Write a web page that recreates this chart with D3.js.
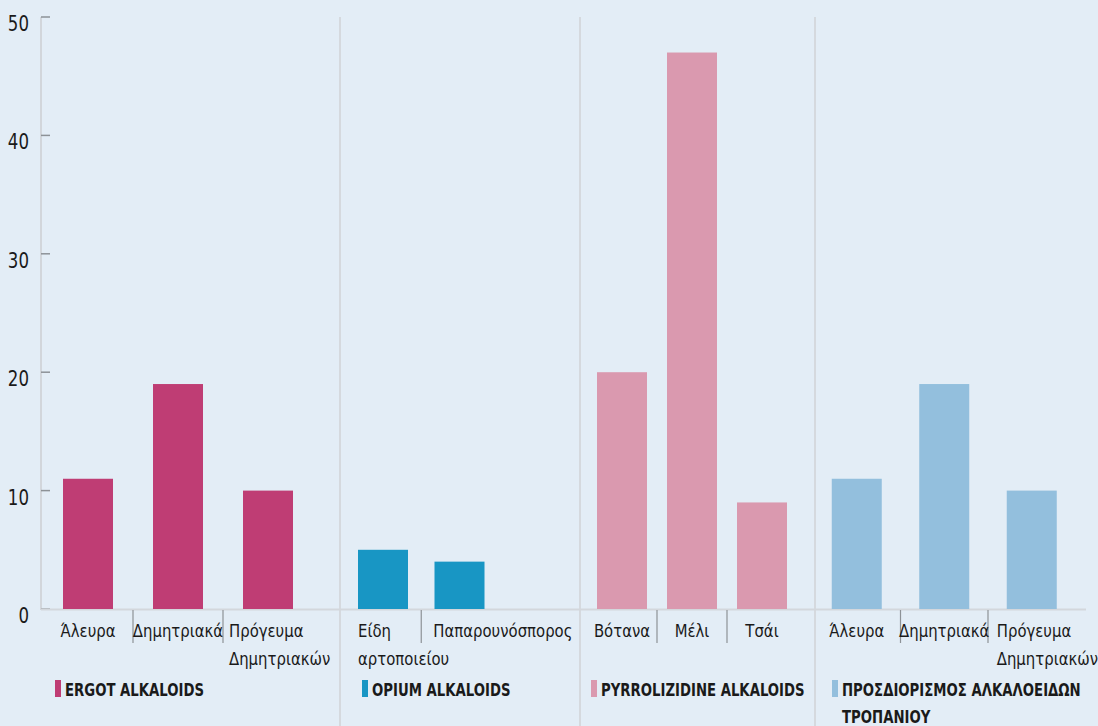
<!DOCTYPE html>
<html>
<head>
<meta charset="utf-8">
<script src="https://cdn.jsdelivr.net/npm/d3@7"></script>
<style>
  html, body { margin: 0; padding: 0; background: #e3edf6; }
  svg { display: block; }
  text { font-family: "DejaVu Sans Condensed", "DejaVu Sans", sans-serif; fill: #1a1a1a; }
</style>
</head>
<body>
<svg id="chart" width="1098" height="726"></svg>
<script>
// ---- data ----
const groupNames = ["ERGOT ALKALOIDS", "OPIUM ALKALOIDS", "PYRROLIZIDINE ALKALOIDS", "ΠΡΟΣΔΙΟΡΙΣΜΟΣ ΑΛΚΑΛΟΕΙΔΩΝ ΤΡΟΠΑΝΙΟΥ"];
const ergotCategories = ["Άλευρα", "Δημητριακά", "Πρόγευμα Δημητριακών"];
const ergotValues = [11, 19, 10];
const opiumCategories = ["Είδη αρτοποιείου", "Παπαρουνόσπορος"];
const opiumValues = [5, 4];
const pyrroCategories = ["Βότανα", "Μέλι", "Τσάι"];
const pyrroValues = [20, 47, 9];
const tropaneCategories = ["Άλευρα", "Δημητριακά", "Πρόγευμα Δημητριακών"];
const tropaneValues = [11, 19, 10];
const yTicks = [0, 10, 20, 30, 40, 50];
const colors = ["#bf3d74", "#1896c4", "#da99af", "#93bfdd"];

// ---- layout ----
const groups = [
  { cats: ergotCategories, vals: ergotValues, color: colors[0], x0: 41, band: [43, 313], wrapOff: 14, legendX: 55, legendLines: [groupNames[0]] },
  { cats: opiumCategories, vals: opiumValues, color: colors[1], x0: 340, band: [344.75, 497.75], wrapOff: 0, legendX: 362, legendLines: [groupNames[1]] },
  { cats: pyrroCategories, vals: pyrroValues, color: colors[2], x0: 580, band: [587, 797], wrapOff: 0, legendX: 591, legendLines: [groupNames[2]] },
  { cats: tropaneCategories, vals: tropaneValues, color: colors[3], x0: 815, band: [813, 1075.5], wrapOff: 10, legendX: 832, legendLines: ["ΠΡΟΣΔΙΟΡΙΣΜΟΣ ΑΛΚΑΛΟΕΙΔΩΝ", "ΤΡΟΠΑΝΙΟΥ"] }
];
const barW = 50;
const labelSX = 0.92, legendSX = 0.82, tickSX = 0.84;

const svg = d3.select("#chart");
const y = d3.scaleLinear().domain([0, 50]).range([609, 17]);

// compressed text helper: lines drawn at (x,y) with horizontal scale sx
function ctext(parent, x, yy, lines, size, sx, anchor, weight, lh) {
  const g = parent.append("g").attr("transform", `translate(${x},${yy}) scale(${sx},1)`);
  const t = g.append("text").attr("x", 0).attr("y", 0)
    .attr("text-anchor", anchor || "start")
    .style("font-size", size + "px").style("font-weight", weight || "normal");
  lines.forEach((l, k) => t.append("tspan").attr("x", 0).attr("dy", k === 0 ? 0 : lh).text(l));
  return { g, t };
}

// y axis line
svg.append("line").attr("x1", 41).attr("x2", 41).attr("y1", 17).attr("y2", 610)
  .attr("stroke", "#d2d6db").attr("stroke-width", 2);

// y ticks
const yt = svg.append("g");
yt.selectAll("line").data(yTicks).join("line")
  .attr("x1", 41).attr("x2", 50).attr("y1", d => y(d)).attr("y2", d => y(d))
  .attr("stroke", "#8d9297").attr("stroke-width", 1.5);
yTicks.forEach(d => ctext(yt, 29, y(d) + 14, [String(d)], 22, tickSX, "end"));

// group separators
svg.selectAll("line.gsep").data(groups.slice(1)).join("line")
  .attr("class", "gsep")
  .attr("x1", d => d.x0).attr("x2", d => d.x0).attr("y1", 17).attr("y2", 726)
  .attr("stroke", "#d5d9de").attr("stroke-width", 2);

// baseline
svg.append("line").attr("x1", 41).attr("x2", 1086).attr("y1", 609.5).attr("y2", 609.5)
  .attr("stroke", "#d3d7dc").attr("stroke-width", 2);

groups.forEach((g, gi) => {
  const x = d3.scaleBand().domain(g.cats.map((c, i) => i)).range(g.band);
  const gg = svg.append("g");
  gg.selectAll("rect.bar").data(g.vals).join("rect")
    .attr("class", "bar")
    .attr("x", (d, i) => x(i) + x.bandwidth() / 2 - barW / 2)
    .attr("width", barW)
    .attr("y", d => y(d))
    .attr("height", d => y(0) - y(d))
    .attr("fill", g.color);

  // category separators
  const seps = d3.range(1, g.cats.length);
  gg.selectAll("line.csep").data(seps).join("line")
    .attr("class", "csep")
    .attr("x1", i => x(i)).attr("x2", i => x(i))
    .attr("y1", 610).attr("y2", 643)
    .attr("stroke", "#8d9297").attr("stroke-width", 1.2);

  // category labels
  g.cats.forEach((c, i) => {
    const cx = x(i) + x.bandwidth() / 2;
    const words = c.split(" ");
    if (words.length === 1) {
      const o = ctext(gg, 0, 637, [c], 18, labelSX, "start");
      const w = o.t.node().getComputedTextLength() * labelSX;
      let left = cx - w / 2;
      if (i > 0 && w > x.bandwidth() + 10) left = Math.max(left, x(i) + 12);
      o.g.attr("transform", `translate(${left},637) scale(${labelSX},1)`);
    } else {
      ctext(gg, cx - barW / 2 - g.wrapOff, 637, words, 18, labelSX, "start", "normal", 28);
    }
  });

  // legend
  gg.append("rect").attr("x", g.legendX).attr("y", 680).attr("width", 6).attr("height", 17).attr("fill", g.color);
  ctext(gg, g.legendX + 10, 696, g.legendLines, 18, legendSX, "start", "bold", 27);
});
</script>
</body>
</html>
